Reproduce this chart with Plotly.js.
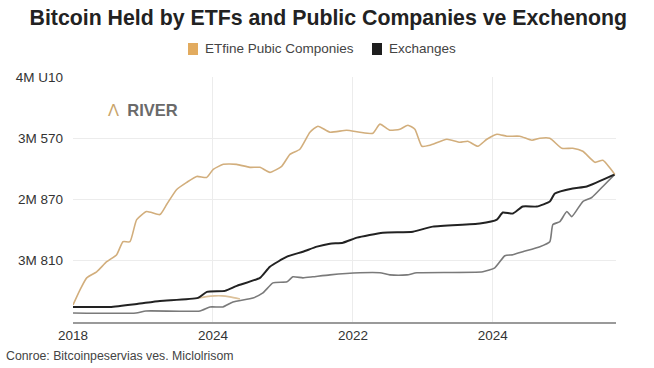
<!DOCTYPE html>
<html><head><meta charset="utf-8">
<script src="https://cdn.plot.ly/plotly-3.0.1.min.js"></script>
<style>html,body{margin:0;padding:0;background:#fff;}#chart{width:654px;height:368px;}</style>
</head><body><div id="chart"></div>
<script>
// Tick labels (as printed on the chart)
const xTickVals = [0, 1, 2, 3];
const xTickText = ["2018", "2024", "2022", "2024"];
const yTickVals = [1, 2, 3, 4];
const yTickText = ["3M 810", "2M 870", "3M 570", "4M U10"];

// Series names
const etfName = 'ETfine Pubic Componies';
const exchName = 'Exchanges';

// ETF / public companies holdings (gold)
const etfX = [0,0.05,0.098,0.169,0.241,0.312,0.357,0.407,0.455,0.526,0.621,0.669,0.741,0.812,0.884,0.955,1.002,1.074,1.169,1.264,1.336,1.407,1.491,1.55,1.621,1.693,1.75,1.836,1.955,2.05,2.143,2.193,2.264,2.336,2.393,2.443,2.493,2.55,2.671,2.764,2.821,2.893,2.957,3.029,3.1,3.193,3.279,3.336,3.407,3.493,3.571,3.643,3.729,3.786,3.871];
const etfY = [0.279,0.525,0.721,0.82,0.984,1.098,1.311,1.311,1.672,1.803,1.754,1.918,2.164,2.279,2.377,2.361,2.492,2.574,2.574,2.525,2.525,2.443,2.541,2.738,2.82,3.098,3.197,3.098,3.131,3.098,3.082,3.23,3.131,3.148,3.213,3.148,2.869,2.885,2.984,2.934,2.951,2.869,2.984,3.066,3.033,3.033,2.967,3.0,3.0,2.836,2.836,2.787,2.607,2.639,2.41];

// Exchanges (black)
const exchX = [0,0.264,0.457,0.621,0.893,0.957,1.086,1.171,1.336,1.407,1.529,1.643,1.743,1.836,1.929,2.029,2.214,2.429,2.571,2.907,3.029,3.071,3.143,3.214,3.314,3.407,3.443,3.571,3.671,3.871];
const exchY = [0.246,0.246,0.295,0.344,0.393,0.492,0.508,0.59,0.721,0.902,1.066,1.148,1.23,1.279,1.295,1.377,1.459,1.475,1.557,1.607,1.672,1.787,1.77,1.885,1.885,1.967,2.098,2.18,2.213,2.41];

// Unlabelled grey series
const greyX = [0,0.45,0.521,0.907,0.979,1.071,1.143,1.286,1.357,1.429,1.529,1.571,1.643,1.714,1.836,2.05,2.193,2.264,2.386,2.457,2.929,3.014,3.086,3.143,3.214,3.336,3.407,3.429,3.479,3.529,3.564,3.643,3.707,3.786,3.871];
const greyY = [0.148,0.148,0.18,0.18,0.246,0.246,0.328,0.393,0.475,0.639,0.656,0.738,0.721,0.738,0.77,0.803,0.803,0.77,0.77,0.803,0.82,0.885,1.082,1.098,1.148,1.23,1.311,1.59,1.639,1.803,1.721,1.967,2.033,2.213,2.41];

// Short gold segment near the bottom
const segX = [0.893,0.943,1.014,1.064,1.121,1.193];
const segY = [0.393,0.41,0.426,0.426,0.41,0.377];

const gold = '#d2ae7c', black = '#222222', grey = '#7a7a7a';
const traces = [
  {x: greyX, y: greyY, mode:'lines', line:{color:grey, width:1.6, shape:'spline', smoothing:0.5}, showlegend:false, hoverinfo:'skip'},
  {x: segX, y: segY, mode:'lines', line:{color:'#dcc19a', width:1.6, shape:'spline', smoothing:0.6}, showlegend:false, hoverinfo:'skip'},
  {x: exchX, y: exchY, mode:'lines', name:exchName, line:{color:black, width:2, shape:'spline', smoothing:0.5}, showlegend:false},
  {x: etfX, y: etfY, mode:'lines', name:etfName, line:{color:gold, width:1.6, shape:'spline', smoothing:0.5}, showlegend:false}
];

// Legend drawn as paper-positioned swatches and labels
const legendItems = [
  {name: etfName, color:'#e2ab5f', x0:188},
  {name: exchName, color:'#1e1e1e', x0:372}
];
const L = 73, W = 543, T = 77, H = 245;
const px = v => (v - L) / W, py = v => (T + H - v) / H;
const shapes = [], annotations = [];
legendItems.forEach(it => {
  shapes.push({type:'rect', xref:'paper', yref:'paper', x0:px(it.x0), x1:px(it.x0+10), y0:py(55), y1:py(43), fillcolor:it.color, line:{width:0}});
  annotations.push({xref:'paper', yref:'paper', x:px(it.x0+15), y:py(49), xanchor:'left', yanchor:'middle', showarrow:false, text:it.name, font:{size:13.5, color:'#444'}});
});
annotations.push({xref:'paper', yref:'paper', x:px(106), y:py(110), xanchor:'left', yanchor:'middle', showarrow:false, text:"<span style='color:#c9a46a'>Λ</span>  <b>RIVER</b>", font:{size:16.5, color:'#6a6a6a'}});
annotations.push({xref:'paper', yref:'paper', x:px(4), y:py(356), xanchor:'left', yanchor:'middle', showarrow:false, text:'Conroe: Bitcoinpeservias ves. Miclolrisom', font:{size:12.3, color:'#444'}});

const layout = {
  width:654, height:368,
  margin:{l:L, r:654-L-W, t:T, b:368-T-H},
  paper_bgcolor:'#fff', plot_bgcolor:'#fff',
  font:{family:'Liberation Sans, Arial, sans-serif', color:'#333'},
  title:{text:'<b>Bitcoin Held by ETFs and Public Companies ve Exchenong</b>', x:0.502, xanchor:'center', xref:'container', y:0.952, yanchor:'middle', yref:'container', font:{size:21.3, color:'#222', family:'Liberation Sans, Arial, sans-serif'}},
  xaxis:{range:[0,3.88], tickvals:xTickVals, ticktext:xTickText, showgrid:true, gridcolor:'#ececec', gridwidth:1, zeroline:false, showline:true, linecolor:'#9a9a9a', linewidth:1.5, ticks:'', tickfont:{size:13.5, color:'#333'}, fixedrange:true},
  yaxis:{range:[0,4.0], tickvals:yTickVals, ticktext:yTickText, showgrid:true, gridcolor:'#ececec', gridwidth:1, zeroline:false, showline:false, ticks:'', ticklabelstandoff:9, tickfont:{size:13.5, color:'#333'}, fixedrange:true},
  showlegend:false,
  shapes: shapes,
  annotations: annotations
};
Plotly.newPlot('chart', traces, layout, {displayModeBar:false, staticPlot:true});
</script></body></html>
